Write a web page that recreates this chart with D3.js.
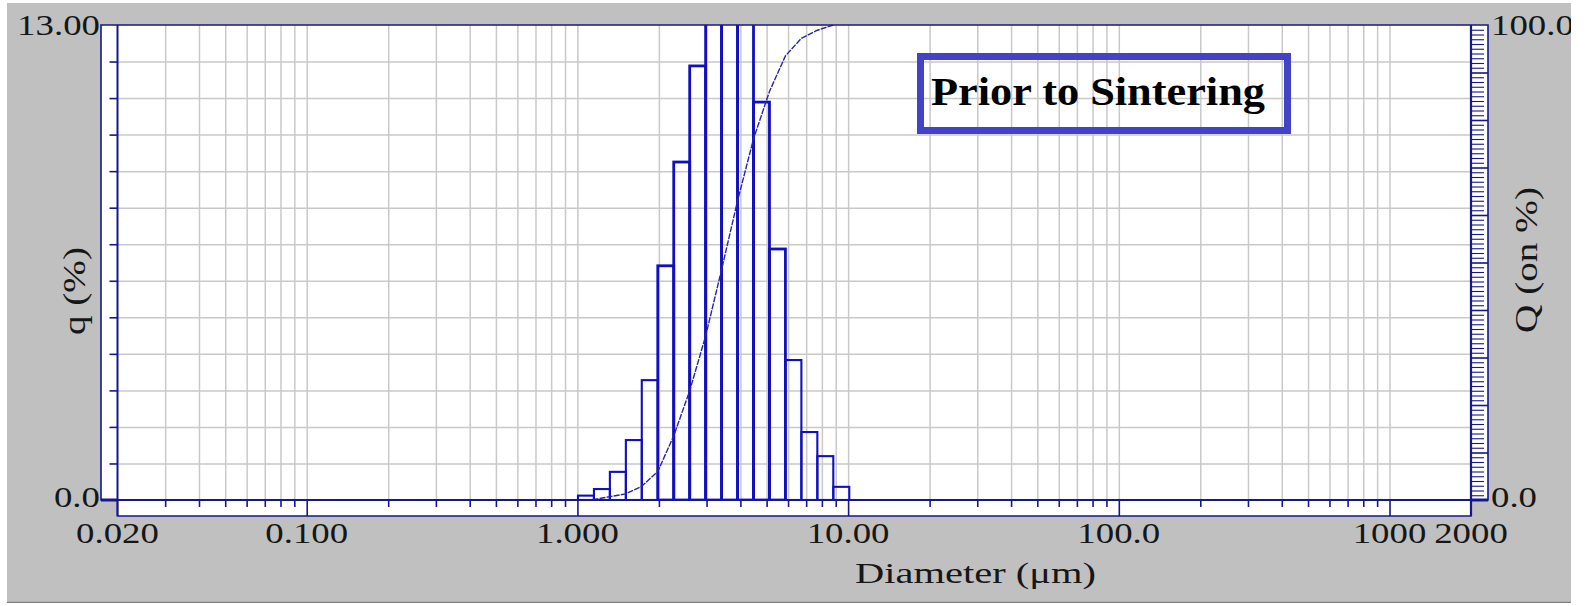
<!DOCTYPE html>
<html>
<head>
<meta charset="utf-8">
<script src="https://cdn.jsdelivr.net/npm/d3@7"></script>
<style>
  html, body { margin: 0; padding: 0; background: #ffffff; }
  svg { display: block; }
  text { font-family: "Liberation Serif", "Times New Roman", serif; fill: #161616; }
</style>
</head>
<body>
<svg id="chart" width="1587" height="606"></svg>
<script>
// ---------------- data ----------------
const binEdges = [1.005, 1.151, 1.318, 1.510, 1.729, 1.981, 2.269, 2.599, 2.976, 3.409,
                  3.905, 4.472, 5.122, 5.867, 6.720, 7.697, 8.816, 10.10];
const qValues  = [0.12, 0.30, 0.77, 1.64, 3.28, 6.41, 9.25, 11.88, 13.9, 14.2,
                  13.5, 10.89, 6.87, 3.83, 1.86, 1.20, 0.36];
const cumSizes = [1.005, 1.151, 1.318, 1.510, 1.729, 1.981, 2.269, 2.599, 2.976, 3.409,
                  3.905, 4.472, 5.122, 5.867, 6.720, 7.697, 8.816];
const cumQ     = [0.0, 0.1, 0.7, 1.3, 2.9, 6.0, 13.5, 23.0, 34.5, 48.5,
                  63.0, 76.0, 86.0, 93.5, 97.2, 98.9, 100.0];
const xLabelValues = [0.02, 0.1, 1, 10, 100, 1000, 2000];
const xLabels      = ["0.020", "0.100", "1.000", "10.00", "100.0", "1000", "2000"];
const xMajorTicks  = [0.1, 1, 10, 100, 1000];
const xMinorTicks  = [0.03,0.04,0.05,0.06,0.07,0.08,0.09,
                      0.2,0.3,0.4,0.5,0.6,0.7,0.8,0.9,
                      2,3,4,5,6,7,8,9,
                      20,30,40,50,60,70,80,90,
                      200,300,400,500,600,700,800,900];
const qTicks = [1,2,3,4,5,6,7,8,9,10,11,12];
const qDomain = [0, 13];
const QDomain = [0, 100];
const qLabels = [{v: 0, t: "0.0"}, {v: 13, t: "13.00"}];
const QLabels = [{v: 0, t: "0.0"}, {v: 100, t: "100.0"}];
const xTitle = "Diameter (\u03bcm)";
const yTitle = "q (%)";
const y2Title = "Q (on %)";
const annotation = "Prior to Sintering";

// ---------------- layout ----------------
const L = 117.5, R = 1471, T = 25, B = 500;
const navy = "#17178a";
const gridCol = "#c9c9c9";
const barCol = "#1010c0";
const svg = d3.select("#chart");

const x = d3.scaleLog().domain([0.02, 2000]).range([L, R]);
const yq = d3.scaleLinear().domain(qDomain).range([B, T]);
const yQ = d3.scaleLinear().domain(QDomain).range([B, T]);

const defs = svg.append("defs");
defs.append("clipPath").attr("id", "panelClip")
  .append("rect").attr("x", 7).attr("y", 3).attr("width", 1564).attr("height", 600);
defs.append("clipPath").attr("id", "plotClip")
  .append("rect").attr("x", L).attr("y", T).attr("width", R - L).attr("height", B - T);

const root = svg.append("g").attr("clip-path", "url(#panelClip)");

// grey panel
root.append("rect").attr("x", 7).attr("y", 3).attr("width", 1564).attr("height", 600).attr("fill", "#c0c0c0");
root.append("line").attr("x1", 7).attr("x2", 1571).attr("y1", 602.5).attr("y2", 602.5)
  .attr("stroke", "#808080").attr("stroke-width", 1.5);

// white frame (plot + axis strips)
const framePath = `M101,${B} V${T} H1488 V${B} H${R} V516 H${L} V${B} Z`;
root.append("path").attr("d", framePath).attr("fill", "#ffffff");

// grid
const grid = root.append("g");
grid.append("g").attr("transform", `translate(0,${B})`)
  .call(d3.axisBottom(x).tickValues(xMinorTicks.concat(xMajorTicks)).tickSize(-(B - T)).tickFormat(""))
  .call(g => g.select(".domain").remove())
  .call(g => g.selectAll("line").attr("stroke", gridCol).attr("stroke-width", 1.5));
grid.append("g").attr("transform", `translate(${L},0)`)
  .call(d3.axisLeft(yq).tickValues(qTicks).tickSize(-(R - L)).tickFormat(""))
  .call(g => g.select(".domain").remove())
  .call(g => g.selectAll("line").attr("stroke", gridCol).attr("stroke-width", 1.5));

// bars
const bars = qValues.map((v, i) => ({x0: binEdges[i], x1: binEdges[i + 1], q: v}));
root.append("g").attr("clip-path", "url(#plotClip)")
  .selectAll("rect").data(bars).join("rect")
  .attr("x", d => x(d.x0))
  .attr("width", d => x(d.x1) - x(d.x0))
  .attr("y", d => yq(d.q))
  .attr("height", d => yq(0) - yq(d.q))
  .attr("fill", "none")
  .attr("stroke", barCol)
  .attr("stroke-width", d => d.q > 6 ? 2.8 : 2.1);

// cumulative curve
const cum = cumSizes.map((s, i) => [s, cumQ[i]]);
root.append("path")
  .datum(cum)
  .attr("clip-path", "url(#plotClip)")
  .attr("d", d3.line().x(d => x(d[0])).y(d => yQ(d[1])))
  .attr("fill", "none")
  .attr("stroke", "#2727a4")
  .attr("stroke-width", 1.4)
  .attr("stroke-dasharray", "6,1.2");

// axes ticks
const axes = root.append("g");
axes.append("g").attr("transform", `translate(0,${B})`)
  .call(d3.axisBottom(x).tickValues(xMinorTicks).tickSize(7).tickFormat(""))
  .call(g => g.select(".domain").remove())
  .call(g => g.selectAll("line").attr("stroke", navy).attr("stroke-width", 1.6));
axes.append("g").attr("transform", `translate(0,${B})`)
  .call(d3.axisBottom(x).tickValues(xMajorTicks).tickSize(16).tickFormat(""))
  .call(g => g.select(".domain").remove())
  .call(g => g.selectAll("line").attr("stroke", navy).attr("stroke-width", 1.6));
axes.append("g").attr("transform", `translate(${L},0)`)
  .call(d3.axisLeft(yq).tickValues(qTicks).tickSize(8).tickFormat(""))
  .call(g => g.select(".domain").remove())
  .call(g => g.selectAll("line").attr("stroke", navy).attr("stroke-width", 1.6));
const QMinor = d3.range(1, 100).filter(v => v % 10 !== 0);
const QMajor = d3.range(10, 100, 10);
axes.append("g").attr("transform", `translate(${R},0)`)
  .call(d3.axisRight(yQ).tickValues(QMinor).tickSize(13).tickFormat(""))
  .call(g => g.select(".domain").remove())
  .call(g => g.selectAll("line").attr("stroke", navy).attr("stroke-width", 1.1));
axes.append("g").attr("transform", `translate(${R},0)`)
  .call(d3.axisRight(yQ).tickValues(QMajor).tickSize(17).tickFormat(""))
  .call(g => g.select(".domain").remove())
  .call(g => g.selectAll("line").attr("stroke", navy).attr("stroke-width", 1.6));

axes.append("path").attr("d", framePath).attr("fill", "none").attr("stroke", navy).attr("stroke-width", 1.6);
axes.append("line").attr("x1", L).attr("x2", L).attr("y1", T).attr("y2", 516).attr("stroke", navy).attr("stroke-width", 2);
axes.append("line").attr("x1", R).attr("x2", R).attr("y1", T).attr("y2", 516).attr("stroke", navy).attr("stroke-width", 2.2);
axes.append("line").attr("x1", 101).attr("x2", R).attr("y1", B).attr("y2", B).attr("stroke", navy).attr("stroke-width", 2);
axes.append("line").attr("x1", 101).attr("x2", L).attr("y1", B).attr("y2", B).attr("stroke", navy).attr("stroke-width", 3);
axes.append("line").attr("x1", R).attr("x2", 1488).attr("y1", B).attr("y2", B).attr("stroke", navy).attr("stroke-width", 3);

// annotation box
root.append("rect").attr("x", 920.5).attr("y", 56.5).attr("width", 367).attr("height", 74)
  .attr("fill", "none").attr("stroke", "#4343c9").attr("stroke-width", 7);
root.append("text").attr("x", 931).attr("y", 105)
  .attr("font-size", 40).attr("font-weight", "bold").style("fill", "#000")
  .attr("textLength", 334).attr("lengthAdjust", "spacingAndGlyphs")
  .text(annotation);

// ---------------- labels ----------------
const FS = 29, STRETCH = 1.27;
function stretch(sel) {
  sel.each(function () {
    const w = this.getComputedTextLength();
    d3.select(this).attr("textLength", w * STRETCH).attr("lengthAdjust", "spacingAndGlyphs");
  });
  return sel;
}
const labels = root.append("g").attr("font-size", FS);

labels.selectAll("text.xl").data(xLabelValues).join("text")
  .attr("class", "xl")
  .attr("x", d => x(d))
  .attr("y", 543)
  .attr("text-anchor", "middle")
  .text((d, i) => xLabels[i])
  .call(stretch);

labels.selectAll("text.ql").data(qLabels).join("text")
  .attr("class", "ql")
  .attr("x", 100)
  .attr("y", d => yq(d.v) + (d.v === 0 ? 7 : 10))
  .attr("text-anchor", "end")
  .text(d => d.t)
  .call(stretch);

labels.selectAll("text.Ql").data(QLabels).join("text")
  .attr("class", "Ql")
  .attr("x", 1491)
  .attr("y", d => yQ(d.v) + (d.v === 0 ? 7 : 10))
  .attr("text-anchor", "start")
  .text(d => d.t)
  .call(stretch);

labels.append("text")
  .attr("x", 855).attr("y", 583)
  .attr("textLength", 241).attr("lengthAdjust", "spacingAndGlyphs")
  .text(xTitle);

labels.append("text")
  .attr("transform", "translate(74,291) rotate(-90)")
  .attr("text-anchor", "middle")
  .attr("dominant-baseline", "central")
  .attr("font-size", 31)
  .attr("textLength", 88).attr("lengthAdjust", "spacingAndGlyphs")
  .text(yTitle);

labels.append("text")
  .attr("transform", "translate(1526,260) rotate(-90)")
  .attr("text-anchor", "middle")
  .attr("dominant-baseline", "central")
  .attr("font-size", 31)
  .attr("textLength", 146).attr("lengthAdjust", "spacingAndGlyphs")
  .text(y2Title);
</script>
</body>
</html>
